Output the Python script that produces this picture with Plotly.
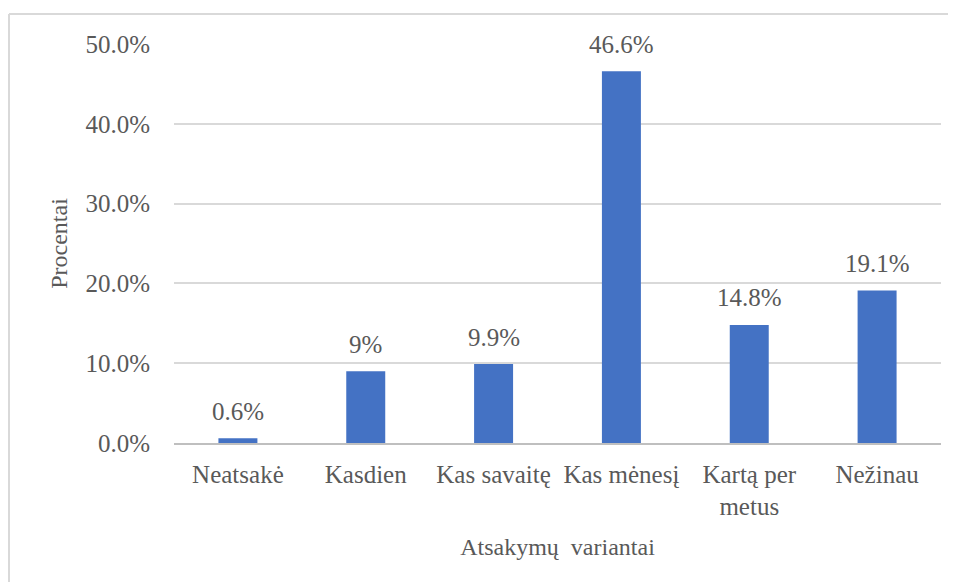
import plotly.graph_objects as go

categories = ["Neatsakė", "Kasdien", "Kas savaitę", "Kas mėnesį", "Kartą per<br>metus", "Nežinau"]
values = [0.6, 9.0, 9.9, 46.6, 14.8, 19.1]
value_labels = ["0.6%", "9%", "9.9%", "46.6%", "14.8%", "19.1%"]
y_ticks = [0, 10, 20, 30, 40, 50]
y_tick_labels = ["0.0%", "10.0%", "20.0%", "30.0%", "40.0%", "50.0%"]

FONT = "Liberation Serif"
TXT = "#595959"

fig = go.Figure(go.Bar(
    x=categories, y=values,
    marker=dict(color="#4472C4", line=dict(width=0)),
    cliponaxis=False,
    hoverinfo="skip",
))

# data labels above bars
for c, v, t in zip(categories, values, value_labels):
    fig.add_annotation(x=c, y=v, text=t, showarrow=False, yanchor="middle", yshift=27,
                       font=dict(family=FONT, size=25, color=TXT))

# page body has an 8px margin; compensate
OFF = 8
W, H = 956 - OFF, 582 - OFF
L, R, T, B = 174 - OFF, 15, 44 - OFF, 139
pw, ph = W - L - R, H - T - B

def px(x):
    return (x - OFF - L) / pw

def py(y):
    return (H - B - (y - OFF)) / ph

fig.update_layout(
    width=W, height=H,
    margin=dict(l=L, r=R, t=T, b=B, autoexpand=False),
    paper_bgcolor="white", plot_bgcolor="white",
    bargap=0.695,
    showlegend=False,
    font=dict(family=FONT, size=25, color=TXT),
    xaxis=dict(
        showgrid=False, showline=True, linecolor="#bfbfbf", linewidth=1.5,
        ticks="outside", ticklen=8, tickcolor="rgba(0,0,0,0)",
        tickfont=dict(family=FONT, size=25, color=TXT),
        automargin=False,
        title=dict(text="Atsakymų  variantai", font=dict(family=FONT, size=24, color=TXT), standoff=19),
    ),
    yaxis=dict(
        range=[0, 50], tickvals=y_ticks, ticktext=y_tick_labels,
        showgrid=True, gridcolor="#d9d9d9", gridwidth=1.5,
        zeroline=False, showline=False, ticks="",
        ticklabelstandoff=23,
        tickfont=dict(family=FONT, size=25, color=TXT),
        automargin=False,
        title=dict(text="Procentai", font=dict(family=FONT, size=24, color=TXT), standoff=11),
    ),
    shapes=[
        dict(type="line", xref="paper", yref="paper", x0=px(9), x1=px(956), y0=py(14), y1=py(14),
             line=dict(color="#d9d9d9", width=2)),
        dict(type="line", xref="paper", yref="paper", x0=px(9), x1=px(9), y0=py(14), y1=py(582),
             line=dict(color="#d9d9d9", width=2)),
    ],
)

fig.write_html("out.html")
